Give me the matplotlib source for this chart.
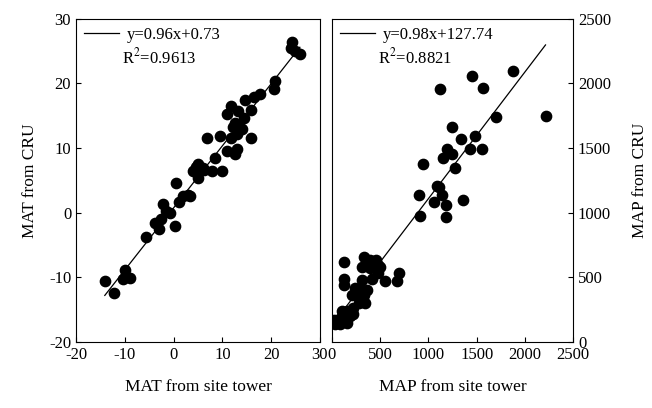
import matplotlib
matplotlib.use("Agg")
import matplotlib.pyplot as plt
import numpy as np

plt.rcParams['font.family'] = ['Liberation Serif', 'DejaVu Serif']
plt.rcParams['mathtext.fontset'] = 'stix'
plt.rcParams['font.size'] = 12
plt.rcParams['axes.unicode_minus'] = False

# --- data ---
mat_tower = [-14.1, -12.2, -10.0, -10.3, -9.0, -5.7, -3.8, -3.0, -2.1, -2.6,
             -0.7, 0.2, 0.5, 1.1, 2.0, 2.9, 3.4, 3.9, 5.1, 5.0,
             6.0, 6.8, 7.8, 8.4, 9.9, 9.6, 10.9, 11.8, 11.0, 11.8,
             12.6, 13.0, 12.6, 13.3, 13.7, 13.0, 14.4, 14.7, 14.0, 15.9,
             15.9, 16.4, 17.8, 20.5, 20.9, 24.3, 24.0, 25.9, 24.9, 6.3,
             -1.5, 4.5, 12.2]
mat_cru = [-10.5, -12.5, -8.8, -10.3, -10.1, -3.7, -1.6, -2.6, 1.3, -1.0,
           0.0, -2.1, 4.6, 1.6, 2.5, 2.8, 2.5, 6.4, 7.6, 5.4,
           6.9, 11.6, 6.4, 8.5, 6.4, 11.9, 9.5, 16.5, 15.2, 11.6,
           9.0, 9.8, 13.9, 15.7, 13.1, 12.1, 14.7, 17.4, 12.9, 15.9,
           11.6, 17.9, 18.3, 19.1, 20.4, 26.4, 25.4, 24.5, 25.0, 6.6,
           0.2, 7.0, 13.2]

map_tower = [1121, 1455, 1569, 1879, 2214, 1697, 1241, 1338, 1483, 1190,
             1155, 1241, 1431, 1552, 948, 1276, 1086, 1138, 903, 1062,
             1179, 1362, 914, 1179, 1110,
             128, 334, 455, 310, 397, 500, 476, 128, 128, 700,
             672, 552, 421, 310, 241, 207, 259, 328, 345, 276,
             214, 155, 103, 52, 34, 86, 155, 214, 110, 17,
             138, 190, 293, 362, 483, 397]
map_cru = [1956, 2059, 1961, 2095, 1748, 1738, 1665, 1568, 1596, 1490,
           1421, 1454, 1490, 1490, 1377, 1344, 1210, 1138, 1133, 1081,
           1056, 1100, 976, 966, 1200,
           616, 657, 636, 580, 572, 580, 533, 487, 443, 533,
           469, 469, 490, 477, 418, 366, 358, 366, 302, 302,
           263, 237, 199, 173, 135, 135, 147, 219, 237, 173,
           186, 199, 418, 405, 598, 636]

fits = [(0.96, 0.73, "y=0.96x+0.73", "R$^2$=0.9613"),
        (0.98, 127.74, "y=0.98x+127.74", "R$^2$=0.8821")]

fig = plt.figure(figsize=(6.52, 4.08), dpi=100)
ax1 = fig.add_axes([0.1166, 0.162, 0.374, 0.792])
ax2 = fig.add_axes([0.509, 0.162, 0.370, 0.792])


def panel(ax, x, y, fit):
    slope, icpt, eq, r2 = fit
    ax.scatter(x, y, s=55, color='black', zorder=3)
    xs = np.array([min(x), max(x)])
    ax.plot(xs, slope * xs + icpt, color='black', lw=0.9, label=eq)
    ax.legend(loc='upper left', frameon=False, handlelength=2.1,
              borderaxespad=0.1, handletextpad=0.45, fontsize=12)
    ax.text(0.19, 0.91, r2, transform=ax.transAxes, fontsize=12, va='top')
    ax.tick_params(direction='in', labelsize=12, top=False)


panel(ax1, mat_tower, mat_cru, fits[0])
ax1.set_xlim(-20, 30)
ax1.set_ylim(-20, 30)
ax1.set_xticks(np.arange(-20, 31, 10))
ax1.set_yticks(np.arange(-20, 31, 10))
ax1.tick_params(right=False)
ax1.set_xlabel("MAT from site tower", labelpad=12, fontsize=12.5)
ax1.set_ylabel("MAT from CRU", labelpad=8, fontsize=12.5)

panel(ax2, map_tower, map_cru, fits[1])
ax2.set_xlim(0, 2500)
ax2.set_ylim(0, 2500)
ax2.set_xticks(np.arange(0, 2501, 500))
ax2.set_yticks(np.arange(0, 2501, 500))
ax2.yaxis.tick_right()
ax2.yaxis.set_label_position('right')
ax2.tick_params(left=False, right=True)
ax2.set_xlabel("MAP from site tower", labelpad=12, fontsize=12.5)
ax2.set_ylabel("MAP from CRU", rotation=90, labelpad=15, fontsize=12.5)

fig.savefig("out.png", dpi=100)
